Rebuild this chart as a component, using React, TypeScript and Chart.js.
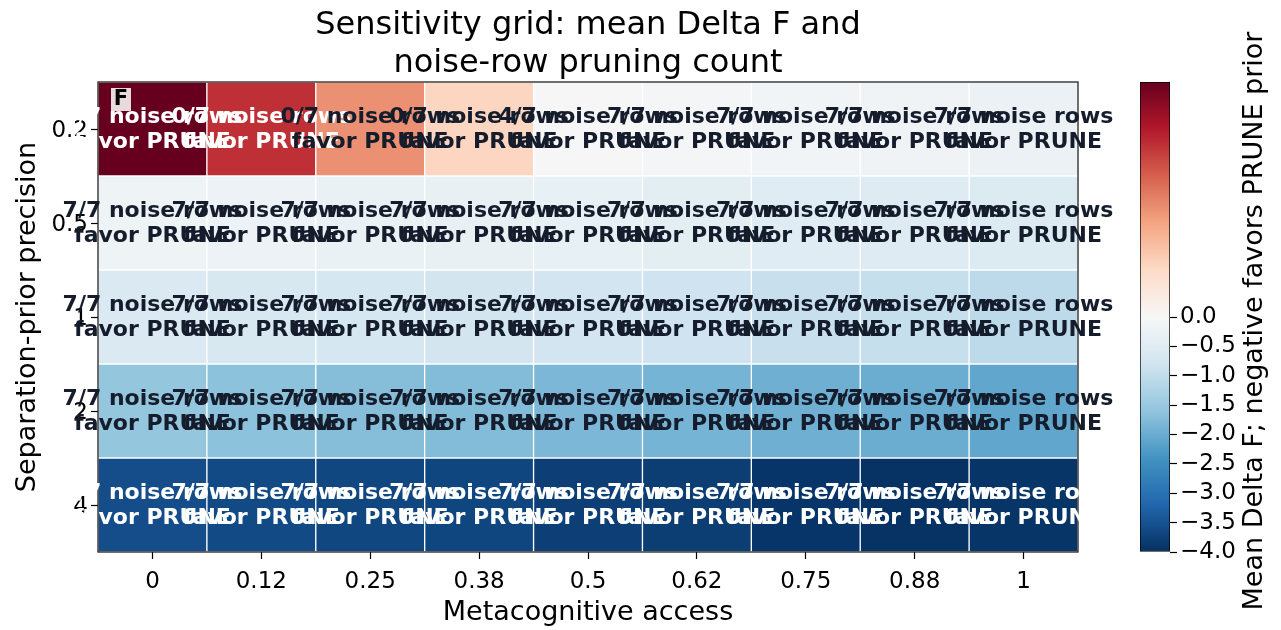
import React, { useEffect, useRef } from "react";
import { Chart, registerables } from "chart.js";

Chart.register(...registerables);

// ---------- data ----------
const X_LABELS = ["0", "0.12", "0.25", "0.38", "0.5", "0.62", "0.75", "0.88", "1"];
const Y_LABELS = ["0.2", "0.5", "1", "2", "4"];

// mean Delta F per row (separation-prior precision), per column (metacognitive access)
const DELTA_P02 = [0.3, 0.22, 0.138, 0.066, -0.03, -0.08, -0.15, -0.17, -0.25];
const DELTA_P05 = [-0.2, -0.23, -0.28, -0.32, -0.33, -0.42, -0.5, -0.52, -0.57];
const DELTA_P1 = [-0.6, -0.68, -0.72, -0.75, -0.78, -0.82, -0.92, -0.95, -1.07];
const DELTA_P2 = [-1.58, -1.65, -1.72, -1.75, -1.82, -1.88, -1.95, -2.0, -2.1];
const DELTA_P4 = [-3.57, -3.62, -3.66, -3.68, -3.78, -3.8, -3.92, -3.97, -3.93];

// noise rows (out of 7) that favor PRUNE
const PRUNE_P02 = [0, 0, 0, 0, 4, 7, 7, 7, 7];
const PRUNE_P05 = [7, 7, 7, 7, 7, 7, 7, 7, 7];
const PRUNE_P1 = [7, 7, 7, 7, 7, 7, 7, 7, 7];
const PRUNE_P2 = [7, 7, 7, 7, 7, 7, 7, 7, 7];
const PRUNE_P4 = [7, 7, 7, 7, 7, 7, 7, 7, 7];
const N_NOISE = 7;

const CB_TICKS = [-4, -3.5, -3, -2.5, -2, -1.5, -1, -0.5, 0];

const TITLE_LINES = ["Sensitivity grid: mean Delta F and", "noise-row pruning count"];

const DELTA_ROWS = [DELTA_P02, DELTA_P05, DELTA_P1, DELTA_P2, DELTA_P4];
const PRUNE_ROWS = [PRUNE_P02, PRUNE_P05, PRUNE_P1, PRUNE_P2, PRUNE_P4];

const VMIN = -4;
const VCENTER = 0;
const VMAX = Math.max(...DELTA_ROWS.flat());

// ---------- colour map (RdBu_r, two-slope norm) ----------
const RDBU_R = [
  "#053061", "#2166ac", "#4393c3", "#92c5de", "#d1e5f0", "#f7f7f7",
  "#fddbc7", "#f4a582", "#d6604d", "#b2182b", "#67001f",
];
function hexToRgb(h: string) {
  return [parseInt(h.slice(1, 3), 16), parseInt(h.slice(3, 5), 16), parseInt(h.slice(5, 7), 16)];
}
function norm(v: number) {
  if (v < VCENTER) return 0.5 * (1 - (VCENTER - v) / (VCENTER - VMIN));
  return 0.5 + 0.5 * Math.min(1, (v - VCENTER) / (VMAX - VCENTER));
}
function cmap(t: number) {
  const x = Math.max(0, Math.min(1, t)) * (RDBU_R.length - 1);
  const i = Math.min(RDBU_R.length - 2, Math.floor(x));
  const f = x - i;
  const a = hexToRgb(RDBU_R[i]);
  const b = hexToRgb(RDBU_R[i + 1]);
  const c = a.map((av, k) => Math.round(av + (b[k] - av) * f));
  return `rgb(${c[0]},${c[1]},${c[2]})`;
}
function textColor(v: number) {
  return Math.abs(norm(v) - 0.5) > 0.3 ? "#ffffff" : "#151c2c";
}
const fmtTick = (v: number) => (v < 0 ? "\u2212" + Math.abs(v).toFixed(1) : v.toFixed(1));

const FONT = "DejaVu Sans";

// ---------- plugins ----------
const cellTextPlugin = {
  id: "cellText",
  afterDatasetsDraw(chart: any) {
    const { ctx, chartArea } = chart;
    ctx.save();
    ctx.strokeStyle = "#222222";
    ctx.lineWidth = 1.3;
    ctx.strokeRect(chartArea.left, chartArea.top, chartArea.right - chartArea.left, chartArea.bottom - chartArea.top);
    ctx.restore();
  },
  afterDraw(chart: any) {
    const { ctx, chartArea } = chart;
    const xs = chart.scales.x;
    const ys = chart.scales.y;
    ctx.save();
    // title centred over the axes
    ctx.font = `32px "${FONT}"`;
    ctx.fillStyle = "#000";
    ctx.textAlign = "center";
    ctx.textBaseline = "middle";
    const tx = (chartArea.left + chartArea.right) / 2;
    TITLE_LINES.forEach((line, i) => ctx.fillText(line, tx, 25.5 + i * 38.4));

    ctx.font = `bold 22px "${FONT}"`;
    DELTA_ROWS.forEach((vals, r) => {
      vals.forEach((v, c) => {
        const cx = xs.getPixelForValue(c);
        const cy = ys.getPixelForValue(r);
        ctx.fillStyle = textColor(v);
        ctx.fillText(`${PRUNE_ROWS[r][c]}/${N_NOISE} noise rows`, cx, cy - 12);
        ctx.fillText("favor PRUNE", cx, cy + 13);
      });
    });
    // panel letter
    const px = chartArea.left + 13;
    const py = chartArea.top + 6;
    ctx.fillStyle = "rgba(255,255,255,0.85)";
    ctx.fillRect(px, py, 20, 23);
    ctx.fillStyle = "#000000";
    ctx.font = `bold 21px "${FONT}"`;
    ctx.fillText("F", px + 10, py + 12);
    ctx.restore();
  },
};

const cbLabelPlugin = {
  id: "cbLabel",
  afterDraw(chart: any) {
    const { ctx, chartArea } = chart;
    ctx.save();
    ctx.translate(155, (chartArea.top + chartArea.bottom) / 2 + 4);
    ctx.rotate(-Math.PI / 2);
    ctx.font = `27px "${FONT}"`;
    ctx.fillStyle = "#000";
    ctx.textAlign = "center";
    ctx.textBaseline = "middle";
    ctx.fillText("Mean Delta F; negative favors PRUNE prior", 0, 0);
    ctx.restore();
  },
};

export default function App() {
  const mainRef = useRef<HTMLCanvasElement>(null);
  const cbRef = useRef<HTMLCanvasElement>(null);

  useEffect(() => {
    document.body.style.margin = "0";
    const tickFont = { family: FONT, size: 23 };
    const main = new Chart(mainRef.current as HTMLCanvasElement, {
      type: "bar",
      data: {
        labels: X_LABELS,
        datasets: DELTA_ROWS.map((vals, r) => ({
          label: Y_LABELS[r],
          data: vals.map(() => [r - 0.5, r + 0.5]),
          backgroundColor: vals.map((v) => cmap(norm(v))),
          borderColor: "#ffffff",
          borderWidth: 1,
          borderSkipped: false,
          grouped: false,
          barPercentage: 1,
          categoryPercentage: 1,
        })) as any,
      },
      options: {
        animation: false,
        responsive: false,
        maintainAspectRatio: false,
        layout: { padding: { left: 0, right: 203, top: 82, bottom: 0 } },
        plugins: {
          legend: { display: false },
          tooltip: { enabled: false },
          title: { display: false },
        },
        scales: {
          x: {
            type: "category",
            offset: true,
            grid: { display: true, drawOnChartArea: false, offset: false, tickLength: 7, color: "#000", tickWidth: 1.2 },
            border: { display: false },
            ticks: { font: tickFont, color: "#000", padding: 9, maxRotation: 0, autoSkip: false },
            title: { display: true, text: "Metacognitive access", font: { family: FONT, size: 27 }, color: "#000", padding: { top: 0, bottom: 1 } },
            afterFit: (s: any) => { s.height = 78; },
          },
          y: {
            type: "linear",
            min: -0.5,
            max: 4.5,
            reverse: true,
            afterBuildTicks: (s: any) => { s.ticks = Y_LABELS.map((_, i) => ({ value: i })); },
            grid: { display: true, drawOnChartArea: false, tickLength: 7, color: "#000", tickWidth: 1.2 },
            border: { display: false },
            ticks: { font: tickFont, color: "#000", padding: 3, labelOffset: 2, callback: (v: any) => Y_LABELS[v as number] },
            title: { display: true, text: "Separation-prior precision", font: { family: FONT, size: 27 }, color: "#000", padding: { top: 12, bottom: 0 } },
            afterFit: (s: any) => { s.width = 98; },
          },
        },
      },
      plugins: [cellTextPlugin],
    });

    const cb = new Chart(cbRef.current as HTMLCanvasElement, {
      type: "bar",
      data: {
        labels: ["cb"],
        datasets: [
          {
            data: [[norm(VMIN), norm(VMAX)]] as any,
            backgroundColor: (ctx: any) => {
              const area = ctx.chart.chartArea;
              if (!area) return "#ccc";
              const g = ctx.chart.ctx.createLinearGradient(0, area.bottom, 0, area.top);
              RDBU_R.forEach((c, i) => g.addColorStop(i / (RDBU_R.length - 1), c));
              return g;
            },
            borderColor: "#000",
            borderWidth: 1,
            borderSkipped: false,
            barPercentage: 1,
            categoryPercentage: 1,
          },
        ],
      },
      options: {
        animation: false,
        responsive: false,
        maintainAspectRatio: false,
        layout: { padding: { left: 40, right: 0, top: 82, bottom: 78 } },
        plugins: { legend: { display: false }, tooltip: { enabled: false } },
        scales: {
          x: { display: false },
          y: {
            position: "right",
            min: 0,
            max: 1,
            afterBuildTicks: (s: any) => { s.ticks = CB_TICKS.map((v) => ({ value: norm(v) })); },
            grid: { display: true, drawOnChartArea: false, tickLength: 7, color: "#000", tickWidth: 1.2 },
            border: { display: false },
            ticks: { font: tickFont, color: "#000", padding: 3, callback: (_v: any, i: number) => fmtTick(CB_TICKS[i]) },
            afterFit: (s: any) => { s.width = 111; },
          },
        },
      },
      plugins: [cbLabelPlugin],
    });

    return () => {
      main.destroy();
      cb.destroy();
    };
  }, []);

  return (
    <div style={{ position: "relative", width: 1281, height: 630, background: "#fff" }}>
      <canvas ref={mainRef} width={1281} height={630} style={{ position: "absolute", left: 0, top: 0, width: 1281, height: 630 }} />
      <canvas ref={cbRef} width={181} height={630} style={{ position: "absolute", left: 1100, top: 0, width: 181, height: 630 }} />
    </div>
  );
}
